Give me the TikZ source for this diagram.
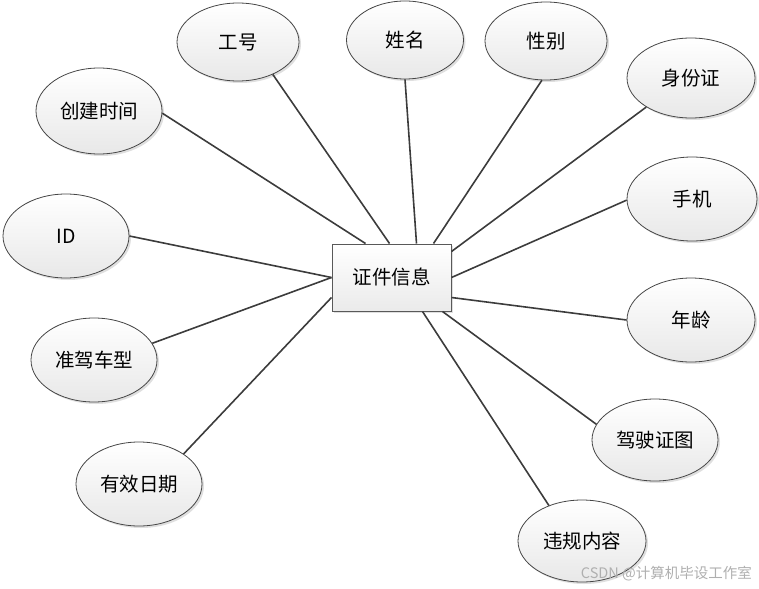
\documentclass[tikz,border=0pt]{standalone}
\usepackage{fontspec}
\newfontfamily\cjk{Noto Sans CJK SC}
\usetikzlibrary{shapes.geometric,shadows}
\definecolor{edgegray}{RGB}{70,70,70}
\definecolor{linegray}{RGB}{60,60,60}
\definecolor{fillbot}{RGB}{232,232,232}
\definecolor{wmgray}{RGB}{175,175,175}
\tikzset{
  attr/.style={ellipse, draw=edgegray, line width=0.8pt, minimum width=126pt, minimum height=82pt,
    inner sep=0pt, top color=white, bottom color=fillbot,
    drop shadow={shadow xshift=2pt, shadow yshift=-2pt, fill=black!25, opacity=0.5},
    font=\cjk\fontsize{19.5}{23}\selectfont},
  entity/.style={rectangle, draw=edgegray!90, line width=1pt, minimum width=119pt, minimum height=67pt,
    inner sep=0pt, top color=white, bottom color=fillbot!90,
    drop shadow={shadow xshift=2pt, shadow yshift=-2pt, fill=black!25, opacity=0.5},
    font=\cjk\fontsize{19.5}{23}\selectfont},
  link/.style={draw=linegray, line width=1.6pt},
}
\begin{document}
\begin{tikzpicture}[x=1pt,y=-1pt]
\useasboundingbox (0,0) rectangle (759,588);
\node[entity] (c) at (391.5,277.5) {证件信息};
\node[attr, minimum width=122pt, minimum height=78pt] (gh) at (238,42) {工号};
\node[attr, minimum width=117pt, minimum height=78pt] (xm) at (405,40) {姓名};
\node[attr, minimum width=122pt, minimum height=78pt] (xb) at (546,41) {性别};
\node[attr, minimum width=128pt, minimum height=80pt] (sfz) at (691,78) {身份证};
\node[attr, minimum width=130pt, minimum height=84pt] (sj) at (692,199) {手机};
\node[attr, minimum width=128pt, minimum height=84pt] (nl) at (691,320) {年龄};
\node[attr] (jszt) at (655,440) {驾驶证图};
\node[attr, minimum width=128pt] (wg) at (582,541) {违规内容};
\node[attr, minimum height=86pt] (cj) at (99,111) {创建时间};
\node[attr, minimum height=84pt] (id) at (66,236) {ID};
\node[attr, minimum height=84pt] (zj) at (94,360) {准驾车型};
\node[attr, minimum height=84pt] (yx) at (139,484) {有效日期};
\draw[link] (cj.-2) -- ([xshift=34pt]c.north west);
\draw[link] (gh.-43) -- ([xshift=58pt]c.north west);
\draw[link] (xm.-90) -- ([xshift=85pt]c.north west);
\draw[link] (xb.-96) -- ([xshift=102pt]c.north west);
\draw[link] (sfz.-147) -- ([yshift=-8pt]c.north east);
\draw[link] (sj.181) -- (c.east);
\draw[link] (nl.180) -- ([yshift=-20pt]c.east);
\draw[link] (jszt.165) -- ([xshift=111pt]c.south west);
\draw[link] (wg.133) -- ([xshift=91pt]c.south west);
\draw[link] (id.0) -- (c.west);
\draw[link] (zj.16) -- (c.west);
\draw[link] (yx.34) -- ([yshift=-20pt]c.west);
\node[anchor=east, text=wmgray, inner sep=0pt, font=\cjk\fontsize{14.5}{17}\selectfont] (wm) at (752,574) {CSDN @计算机毕设工作室};
\end{tikzpicture}
\end{document}
